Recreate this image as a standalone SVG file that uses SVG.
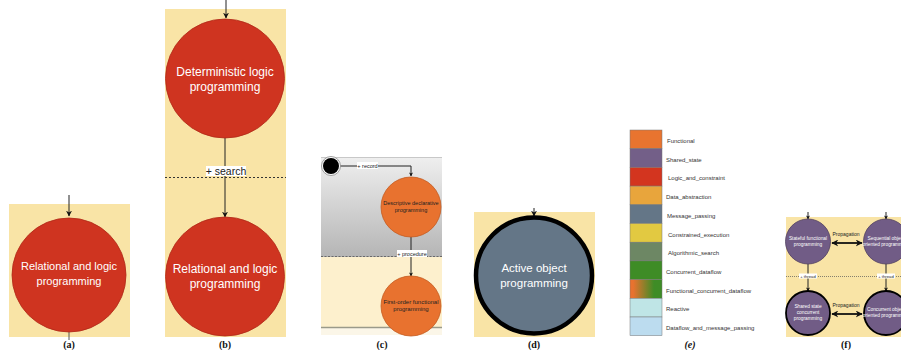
<svg xmlns="http://www.w3.org/2000/svg" width="901" height="350" viewBox="0 0 901 350">
<style>
.bg{fill:#f9e4a6}
.red{fill:#cf3420;stroke:#b02a18;stroke-width:0.8}
.org{fill:#e8722f;stroke:#c45a20;stroke-width:0.8}
.pur{fill:#715c86;stroke:#4f3f60;stroke-width:0.8}
.wt{font-family:"Liberation Sans",Arial,sans-serif;fill:#fff;text-anchor:middle}
.dk{font-family:"Liberation Sans",Arial,sans-serif;fill:#222;text-anchor:middle}
.lg{font-family:"Liberation Sans",Arial,sans-serif;fill:#333;font-size:6px}
.cap{font-family:"Liberation Serif","Times New Roman",serif;font-weight:bold;font-size:10px;fill:#111;text-anchor:middle}
.ln{stroke:#222;stroke-width:1;fill:none}
.lbl{fill:#fff}
.cell{stroke:#777;stroke-width:0.5}
</style>
<defs>
<marker id="ah" viewBox="0 0 10 10" refX="9" refY="5" markerWidth="6" markerHeight="6" orient="auto" markerUnits="userSpaceOnUse"><path d="M0,0 L10,5 L0,10 L3,5 z" fill="#111"/></marker>
<marker id="ahs" viewBox="0 0 10 10" refX="9" refY="5" markerWidth="4" markerHeight="4" orient="auto" markerUnits="userSpaceOnUse"><path d="M0,0 L10,5 L0,10 L3,5 z" fill="#111"/></marker>
<marker id="ahb" viewBox="0 0 10 10" refX="9" refY="5" markerWidth="7" markerHeight="7" orient="auto-start-reverse" markerUnits="userSpaceOnUse"><path d="M0,0 L10,5 L0,10 L3,5 z" fill="#111"/></marker>
<linearGradient id="gray" x1="0" y1="0" x2="0" y2="1"><stop offset="0" stop-color="#efefef"/><stop offset="1" stop-color="#b5b5b5"/></linearGradient>
<linearGradient id="fcd" x1="0" y1="0" x2="1" y2="0"><stop offset="0.1" stop-color="#e8722f"/><stop offset="0.75" stop-color="#3e8c26"/></linearGradient>
</defs>

<!-- backgrounds -->
<g id="panels">
<rect class="bg" x="9" y="204" width="121" height="133"/>
<rect class="bg" x="165" y="9" width="121" height="328"/>
<rect x="321" y="157" width="121" height="100" fill="url(#gray)"/>
<line x1="321" y1="157.5" x2="442" y2="157.5" stroke="#c8c8c8" stroke-width="1"/>
<rect x="321" y="257" width="121" height="70" fill="#fdf0cd"/>
<rect x="321" y="327" width="121" height="8" fill="#fbf6e8"/>
<rect class="bg" x="474" y="212" width="121" height="125"/>
<rect class="bg" x="786" y="217" width="115" height="120"/>
</g>

<!-- connectors -->
<g id="connectors">
<line class="ln" x1="69" y1="195" x2="69" y2="216" marker-end="url(#ah)"/>
<line x1="69" y1="332" x2="69" y2="340" stroke="#555" stroke-width="1"/>
<line class="ln" x1="226" y1="0" x2="226" y2="18" marker-end="url(#ah)"/>
<line class="ln" x1="225" y1="138" x2="225" y2="217" marker-end="url(#ah)"/>
<line x1="165" y1="177.5" x2="286" y2="177.5" stroke="#333" stroke-width="1" stroke-dasharray="2,2"/>
<line x1="321" y1="256.5" x2="442" y2="256.5" stroke="#555" stroke-width="0.8" stroke-dasharray="2,1.5"/>
<line x1="321" y1="327.5" x2="442" y2="327.5" stroke="#9a9a8a" stroke-width="1.6"/>
<path class="ln" d="M340,166 H411 V176" stroke-width="0.7" marker-end="url(#ahs)"/>
<line class="ln" x1="411" y1="237" x2="411" y2="276" stroke-width="0.7" marker-end="url(#ahs)"/>
<line class="ln" x1="534" y1="208" x2="534" y2="216" marker-end="url(#ah)"/>
<line x1="786" y1="276.5" x2="901" y2="276.5" stroke="#555" stroke-width="0.7" stroke-dasharray="1,1"/>
<line class="ln" x1="808" y1="212" x2="808" y2="219" stroke-width="0.7" marker-end="url(#ahs)"/>
<line class="ln" x1="886" y1="212" x2="886" y2="219" stroke-width="0.7" marker-end="url(#ahs)"/>
<line class="ln" x1="808" y1="264" x2="808" y2="291" stroke-width="0.7" marker-end="url(#ahs)"/>
<line class="ln" x1="886" y1="264" x2="886" y2="291" stroke-width="0.7" marker-end="url(#ahs)"/>
<line x1="832" y1="243" x2="862" y2="243" stroke="#111" stroke-width="1.8" marker-start="url(#ahb)" marker-end="url(#ahb)"/>
<line x1="832" y1="314" x2="862" y2="314" stroke="#111" stroke-width="1.8" marker-start="url(#ahb)" marker-end="url(#ahb)"/>
<rect class="lbl" x="206" y="166" width="40" height="10"/>
<text x="226" y="175" class="dk" font-size="10.5" fill="#222">+ search</text>
<rect class="lbl" x="357" y="162" width="21" height="7"/>
<text x="367.5" y="167.8" class="dk" font-size="5.5">+ record</text>
<rect class="lbl" x="397" y="250" width="30" height="7"/>
<text x="412" y="255.8" class="dk" font-size="5.5">+ procedure</text>
<text x="846" y="236" class="dk" font-size="5">Propagation</text>
<text x="846" y="307" class="dk" font-size="5">Propagation</text>
<rect class="lbl" x="799" y="273.5" width="18" height="5"/>
<text x="808" y="277.8" class="dk" font-size="4.2">+ thread</text>
<rect class="lbl" x="877" y="273.5" width="18" height="5"/>
<text x="886" y="277.8" class="dk" font-size="4.2">+ thread</text>
</g>

<!-- panel a -->
<g id="a-relational">
<circle class="red" cx="69" cy="275" r="57"/>
<text class="wt" x="69" y="270" font-size="11">Relational and logic</text>
<text class="wt" x="69" y="285" font-size="11">programming</text>
</g>

<!-- panel b -->
<g id="b-deterministic">
<circle class="red" cx="225" cy="78.5" r="59.5"/>
<text class="wt" x="225" y="76" font-size="12">Deterministic logic</text>
<text class="wt" x="225" y="91" font-size="12">programming</text>
</g>
<g id="b-relational">
<circle class="red" cx="225" cy="276.5" r="59.5"/>
<text class="wt" x="225" y="273" font-size="12">Relational and logic</text>
<text class="wt" x="225" y="288" font-size="12">programming</text>
</g>

<!-- panel c -->
<g id="c-start">
<circle cx="331" cy="166" r="9.5" fill="#fff" stroke="#888" stroke-width="0.8"/>
<circle cx="331" cy="166" r="8" fill="#000"/>
</g>
<g id="c-descriptive">
<circle class="org" cx="411" cy="207" r="30"/>
<text class="dk" x="411" y="205" font-size="5.5">Descriptive declarative</text>
<text class="dk" x="411" y="212" font-size="5.5">programming</text>
</g>
<g id="c-firstorder">
<circle class="org" cx="411" cy="306" r="30"/>
<text class="dk" x="411" y="304" font-size="6">First-order functional</text>
<text class="dk" x="411" y="311" font-size="6">programming</text>
</g>

<!-- panel d -->
<g id="d-active">
<circle cx="534" cy="275.5" r="58" fill="#647687" stroke="#000" stroke-width="4.5"/>
<text class="wt" x="534" y="272" font-size="11.5">Active object</text>
<text class="wt" x="534" y="287" font-size="11.5">programming</text>
</g>

<!-- panel e legend -->
<g id="e-legend">
<rect class="cell" x="630" y="130" width="32" height="18.7" fill="#e8742f"/>
<rect class="cell" x="630" y="148.7" width="32" height="18.7" fill="#735f88"/>
<rect class="cell" x="630" y="167.4" width="32" height="18.7" fill="#d3351f"/>
<rect class="cell" x="630" y="186.1" width="32" height="18.7" fill="#e8a53c"/>
<rect class="cell" x="630" y="204.8" width="32" height="18.7" fill="#647687"/>
<rect class="cell" x="630" y="223.5" width="32" height="18.7" fill="#e2c941"/>
<rect class="cell" x="630" y="242.2" width="32" height="18.7" fill="#6d8764"/>
<rect class="cell" x="630" y="260.9" width="32" height="18.7" fill="#3e8c26"/>
<rect class="cell" x="630" y="279.6" width="32" height="18.7" fill="url(#fcd)"/>
<rect class="cell" x="630" y="298.3" width="32" height="18.7" fill="#bfe5e6"/>
<rect class="cell" x="630" y="317" width="32" height="18.7" fill="#bcdcef"/>
<text class="lg" x="667" y="143">Functional</text>
<text class="lg" x="666" y="161.7">Shared_state</text>
<text class="lg" x="668" y="180.4">Logic_and_constraint</text>
<text class="lg" x="666" y="199.1">Data_abstraction</text>
<text class="lg" x="667" y="217.8">Message_passing</text>
<text class="lg" x="668" y="236.5">Constrained_execution</text>
<text class="lg" x="668" y="255.2">Algorithmic_search</text>
<text class="lg" x="666" y="273.9">Concurrent_dataflow</text>
<text class="lg" x="666" y="292.6">Functional_concurrent_dataflow</text>
<text class="lg" x="666" y="311.3">Reactive</text>
<text class="lg" x="666" y="330">Dataflow_and_message_passing</text>
</g>

<!-- panel f -->
<g id="f-stateful">
<circle class="pur" cx="808" cy="241.5" r="22.5"/>
<text class="wt" x="808" y="240" font-size="4.8">Stateful functional</text>
<text class="wt" x="808" y="246" font-size="4.8">programming</text>
</g>
<g id="f-sequential">
<circle class="pur" cx="886" cy="241.5" r="22.5"/>
<text class="wt" x="886" y="240" font-size="4.8">Sequential object</text>
<text class="wt" x="886" y="246" font-size="4.8">oriented programming</text>
</g>
<g id="f-shared">
<circle cx="808" cy="313" r="22" fill="#715c86" stroke="#000" stroke-width="1.8"/>
<text class="wt" x="808" y="308" font-size="4.8">Shared state</text>
<text class="wt" x="808" y="314" font-size="4.8">concurrent</text>
<text class="wt" x="808" y="320" font-size="4.8">programming</text>
</g>
<g id="f-concurrent">
<circle cx="886" cy="313" r="22" fill="#715c86" stroke="#000" stroke-width="1.8"/>
<text class="wt" x="886" y="311" font-size="4.8">Concurrent object</text>
<text class="wt" x="886" y="317" font-size="4.8">oriented programming</text>
</g>

<!-- captions -->
<g id="captions">
<text class="cap" x="69" y="348">(a)</text>
<text class="cap" x="225" y="348">(b)</text>
<text class="cap" x="382" y="348">(c)</text>
<text class="cap" x="534" y="348">(d)</text>
<text class="cap" x="690" y="348" font-style="italic">(e)</text>
<text class="cap" x="846" y="348" font-weight="normal" font-family="Liberation Sans, Arial, sans-serif">(f)</text>
</g>
</svg>
